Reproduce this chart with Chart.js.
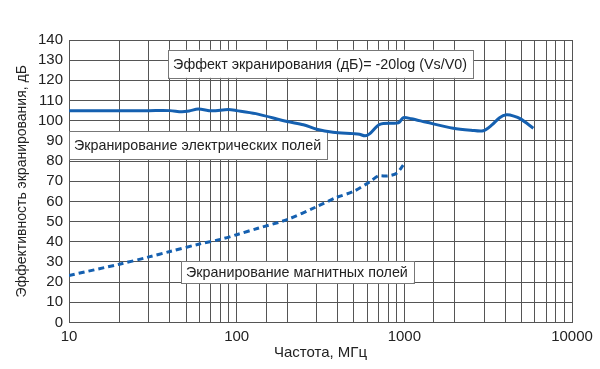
<!DOCTYPE html>
<html>
<head>
<meta charset="utf-8">
<script src="https://cdn.jsdelivr.net/npm/chart.js@4"></script>
<style>
  html, body { margin: 0; padding: 0; background: #fff; }
  #wrap { width: 600px; height: 369px; position: relative; }
</style>
</head>
<body>
<div id="wrap"><canvas id="chart"></canvas></div>
<script>
// frequency, MHz / shielding, dB
const elecFreq = [10, 20, 30, 40, 47, 52, 59, 71, 89, 100, 130, 200, 250, 300, 375, 496, 540, 583, 620, 714, 900, 940, 985, 1100, 1358, 1958, 2500, 2953, 3330, 3700, 4070, 4500, 4935, 5880];
const elecDb = [105, 105, 105, 105, 104.4, 104.8, 105.8, 104.9, 105.5, 105, 103.5, 99.6, 98, 95.8, 94.3, 93.6, 93.3, 92.5, 93.5, 98.2, 98.8, 99.5, 101.5, 101, 99.2, 96.3, 95.3, 95, 97.9, 101.5, 102.9, 102.3, 100.9, 96.3];

const magnFreq = [10, 20, 30, 40, 60, 80, 100, 134, 200, 300, 392, 496, 625, 700, 800, 900, 985];
const magnDb = [23.3, 28.9, 32.5, 35.2, 38.9, 41.2, 43.5, 46.7, 51, 57.4, 61.9, 64.9, 69.8, 72.6, 72.6, 74, 78];

const xTicks = [10, 100, 1000, 10000];

const labels = [
    { text: "Эффект экранирования (дБ)= -20log (Vs/V0)", x: 39, y: 128.2, h: 28 },
    { text: "Экранирование электрических полей", x: 10, y: 87.8, h: 28 },
    { text: "Экранирование магнитных полей", x: 46.6, y: 25, h: 22 },
];

const FONT = "'Liberation Sans', Arial, sans-serif";
const BLUE = "#1560b0";
const GRID = "#555";

const toPoints = (xs, ys) => xs.map((x, i) => ({ x, y: ys[i] }));

// white boxes with text, drawn over the grid but under the curves
const boxPlugin = {
    id: "boxes",
    beforeDatasetsDraw(chart) {
        const { ctx, scales } = chart;
        ctx.save();
        ctx.font = "14.3px " + FONT;
        ctx.textBaseline = "middle";
        labels.forEach((l) => {
            const left = scales.x.getPixelForValue(l.x);
            const cy = scales.y.getPixelForValue(l.y);
            const w = ctx.measureText(l.text).width + 11;
            ctx.fillStyle = "#fff";
            ctx.fillRect(left, cy - l.h / 2, w, l.h);
            ctx.strokeStyle = "#777";
            ctx.lineWidth = 1;
            ctx.strokeRect(Math.round(left) + 0.5, Math.round(cy - l.h / 2) + 0.5, Math.round(w), l.h);
            ctx.fillStyle = "#222";
            ctx.fillText(l.text, left + 5, cy + 1);
        });
        ctx.restore();
    },
};

new Chart(document.getElementById("chart"), {
    type: "scatter",
    data: {
        datasets: [
            {
                data: toPoints(elecFreq, elecDb),
                borderColor: BLUE,
                borderWidth: 3,
                pointRadius: 0,
                showLine: true,
                tension: 0.3,
            },
            {
                data: toPoints(magnFreq, magnDb),
                borderColor: BLUE,
                borderWidth: 3,
                borderDash: [6, 4],
                pointRadius: 0,
                showLine: true,
                tension: 0.3,
            },
        ],
    },
    options: {
        responsive: true,
        maintainAspectRatio: false,
        animation: false,
        layout: { padding: { top: 40, right: 28, left: 0, bottom: 0 } },
        plugins: { legend: { display: false }, tooltip: { enabled: false } },
        scales: {
            x: {
                type: "logarithmic",
                min: 10,
                max: 10000,
                afterFit: (s) => { s.height = 46.5; },
                grid: { color: GRID, drawTicks: false },
                border: { color: GRID },
                ticks: {
                    autoSkip: false,
                    maxRotation: 0,
                    padding: 5,
                    color: "#222",
                    font: { family: FONT, size: 15 },
                    callback: (v) => (xTicks.includes(v) ? String(v) : ""),
                },
                title: {
                    display: true,
                    text: "Частота, МГц",
                    color: "#222",
                    font: { family: FONT, size: 15 },
                    padding: { top: 0, bottom: 7 },
                },
            },
            y: {
                min: 0,
                max: 140,
                afterFit: (s) => { s.width = 69; },
                grid: { color: GRID, drawTicks: false },
                border: { color: GRID },
                ticks: {
                    stepSize: 10,
                    autoSkip: false,
                    padding: 6,
                    color: "#222",
                    font: { family: FONT, size: 15 },
                },
                title: {
                    display: true,
                    text: "Эффективность экранирования, дБ",
                    color: "#222",
                    font: { family: FONT, size: 14 },
                    padding: { top: 14, bottom: 0 },
                },
            },
        },
    },
    plugins: [boxPlugin],
});
</script>
</body>
</html>
